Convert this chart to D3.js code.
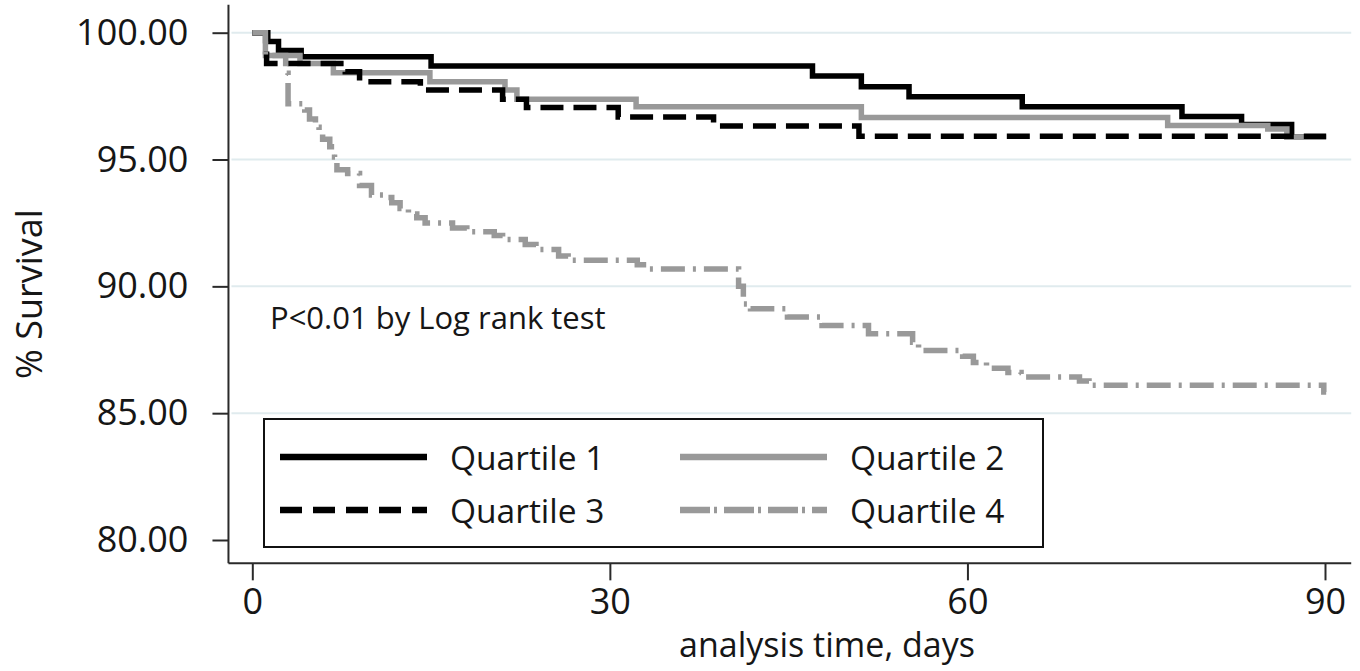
<!DOCTYPE html>
<html>
<head>
<meta charset="utf-8">
<script src="https://cdn.jsdelivr.net/npm/d3@7"></script>
<style>
  body { margin: 0; background: #fff; }
  text { font-family: "Open Sans", "Noto Sans", sans-serif; fill: #161616; }
</style>
</head>
<body>
<div id="chart"></div>
<script>
// Kaplan-Meier survival by quartile
var q1Days = [0, 1.3, 2.2, 4.1, 15.0, 47.0, 51.1, 55.1, 64.6, 78.0, 83.0, 87.2, 89.4];
var q1Surv = [100, 99.65, 99.3, 99.05, 98.69, 98.29, 97.87, 97.47, 97.08, 96.7, 96.38, 95.88, 95.88];

var q2Days = [0, 1.1, 4.0, 6.8, 14.9, 21.2, 22.2, 32.2, 51.1, 76.8, 85.2, 86.8, 90.1];
var q2Surv = [100, 99.1, 98.79, 98.42, 98.07, 97.74, 97.38, 97.08, 96.66, 96.34, 96.2, 95.88, 95.88];

var q3Days = [0, 1.2, 7.8, 9.0, 14.1, 21.0, 23.0, 30.7, 38.7, 50.9, 90.1];
var q3Surv = [100, 98.79, 98.46, 98.07, 97.74, 97.38, 97.05, 96.68, 96.32, 95.92, 95.92];

var q4Days = [0, 1.1, 2.8, 3.0, 4.4, 4.8, 5.3, 5.6, 5.9, 6.5, 6.9, 7.1, 8.0, 9.0, 10.0, 11.1, 11.7,
  12.4, 13.1, 13.8, 14.5, 16.8, 18.0, 20.3, 21.0, 22.9, 23.8, 25.7, 26.5, 32.3, 33.2, 40.8,
  41.2, 41.8, 44.9, 47.8, 51.7, 55.4, 55.9, 59.6, 60.5, 61.6, 63.4, 64.5, 69.4, 70.2, 89.9, 90.1];
var q4Surv = [100, 99.1, 98.4, 97.2, 96.95, 96.6, 96.27, 96.1, 95.8, 95.5, 95.1, 94.6, 94.45, 93.98, 93.6, 93.5, 93.3,
  93.07, 92.85, 92.7, 92.5, 92.3, 92.15, 92.0, 91.85, 91.65, 91.45, 91.2, 91.03, 90.85, 90.68, 90.0,
  89.3, 89.12, 88.79, 88.46, 88.13, 87.8, 87.47, 87.24, 87.0, 86.77, 86.6, 86.43, 86.27, 86.1, 85.83, 85.83];

var seriesNames = ["Quartile 1", "Quartile 2", "Quartile 3", "Quartile 4"];
var yTicks = [80, 85, 90, 95, 100];
var xTicks = [0, 30, 60, 90];
var gridValues = [85, 90, 95, 100];

var svgWidth = 1360;
var svgHeight = 671;

var svg = d3.select("#chart")
  .append("svg")
  .attr("width", svgWidth)
  .attr("height", svgHeight);

svg.append("rect")
  .attr("width", svgWidth)
  .attr("height", svgHeight)
  .attr("fill", "#fff");

var x = d3.scaleLinear().domain([0, 90]).range([252.3, 1325]);
var y = d3.scaleLinear().domain([80, 100]).range([540, 32.7]);

// axis lines run a bit past the tick range, like Stata's plot region
var xExtent = [-2, 92.2];
var yExtent = [79.08, 101.1];

// grid
svg.append("g")
  .selectAll("line")
  .data(gridValues)
  .enter()
  .append("line")
  .attr("x1", x(xExtent[0]) + 3)
  .attr("x2", x(xExtent[1]))
  .attr("y1", d => y(d))
  .attr("y2", d => y(d))
  .attr("stroke", "#e0ebee")
  .attr("stroke-width", 2);

// y axis
var leftAxis = d3.axisLeft(y)
  .tickValues(yTicks)
  .tickFormat(d3.format(".2f"))
  .tickSize(16)
  .tickPadding(24);

var yAxis = svg.append("g")
  .attr("transform", `translate(${x(xExtent[0])}, 0)`)
  .call(leftAxis);
yAxis.select(".domain").remove();
yAxis.selectAll("line").attr("stroke", "#2a2a2a").attr("stroke-width", 2);
yAxis.selectAll("text").attr("font-size", 36).attr("font-family", "Open Sans").attr("fill", "#161616");

svg.append("line")
  .attr("x1", x(xExtent[0])).attr("x2", x(xExtent[0]))
  .attr("y1", y(yExtent[1])).attr("y2", y(yExtent[0]))
  .attr("stroke", "#2a2a2a").attr("stroke-width", 2);

// x axis
var bottomAxis = d3.axisBottom(x)
  .tickValues(xTicks)
  .tickSize(17)
  .tickPadding(8);

var xAxis = svg.append("g")
  .attr("transform", `translate(0, ${y(yExtent[0])})`)
  .call(bottomAxis);
xAxis.select(".domain").remove();
xAxis.selectAll("line").attr("stroke", "#2a2a2a").attr("stroke-width", 2);
xAxis.selectAll("text").attr("font-size", 36).attr("font-family", "Open Sans").attr("fill", "#161616");

svg.append("line")
  .attr("x1", x(xExtent[0])).attr("x2", x(xExtent[1]))
  .attr("y1", y(yExtent[0])).attr("y2", y(yExtent[0]))
  .attr("stroke", "#2a2a2a").attr("stroke-width", 2);

// axis titles
svg.append("text")
  .attr("transform", "translate(42, 294) rotate(-90)")
  .attr("text-anchor", "middle")
  .attr("font-size", 36)
  .text("% Survival");

svg.append("text")
  .attr("x", 827)
  .attr("y", 657)
  .attr("text-anchor", "middle")
  .attr("font-size", 34)
  .text("analysis time, days");

// curves
var styles = [
  { color: "#000", dash: null, legendDash: null },
  { color: "#999", dash: null, legendDash: null },
  { color: "#000", dash: "23,10", legendDash: "22,11" },
  { color: "#999", dash: "24,8,3,8", legendDash: "30,4,3,7" }
];

var series = [
  q1Days.map((d, i) => ({ day: d, surv: q1Surv[i] })),
  q2Days.map((d, i) => ({ day: d, surv: q2Surv[i] })),
  q3Days.map((d, i) => ({ day: d, surv: q3Surv[i] })),
  q4Days.map((d, i) => ({ day: d, surv: q4Surv[i] }))
];

var stepLine = d3.line()
  .x(d => x(d.day))
  .y(d => y(d.surv))
  .curve(d3.curveStepAfter);

svg.append("g")
  .selectAll("path")
  .data(series)
  .enter()
  .append("path")
  .attr("d", stepLine)
  .attr("fill", "none")
  .attr("stroke", (d, i) => styles[i].color)
  .attr("stroke-width", 5.5)
  .attr("stroke-dasharray", (d, i) => styles[i].dash);

// annotation
svg.append("text")
  .attr("x", 270)
  .attr("y", 329)
  .attr("font-size", 31)
  .text("P<0.01 by Log rank test");

// legend
var legend = svg.append("g");
legend.append("rect")
  .attr("x", 264)
  .attr("y", 419)
  .attr("width", 779)
  .attr("height", 128)
  .attr("fill", "#fff")
  .attr("stroke", "#111")
  .attr("stroke-width", 2);

var items = legend.selectAll("g.item")
  .data(seriesNames)
  .enter()
  .append("g")
  .attr("class", "item")
  .attr("transform", (d, i) => `translate(${280 + (i % 2) * 400}, ${457 + Math.floor(i / 2) * 53})`);

items.append("line")
  .attr("x1", 0)
  .attr("x2", 147)
  .attr("stroke", (d, i) => styles[i].color)
  .attr("stroke-width", 6.5)
  .attr("stroke-dasharray", (d, i) => styles[i].legendDash);

items.append("text")
  .attr("x", 170)
  .attr("y", 13)
  .attr("font-size", 33.5)
  .text(d => d);
</script>
</body>
</html>
